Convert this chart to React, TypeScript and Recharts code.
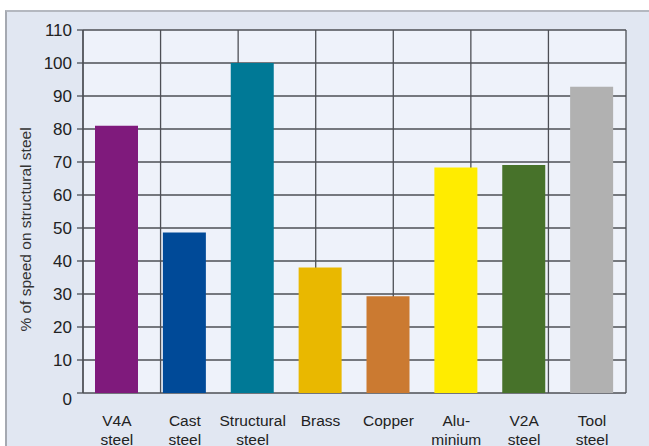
import React from "react";
import { BarChart, Bar, XAxis, YAxis, CartesianGrid, Cell } from "recharts";

const categories = [
  "V4A\nsteel",
  "Cast\nsteel",
  "Structural\nsteel",
  "Brass",
  "Copper",
  "Alu-\nminium",
  "V2A\nsteel",
  "Tool\nsteel",
];
const speedPercent = [81, 48.6, 100, 38, 29.3, 68.3, 69.1, 92.8];
const barColors = [
  "#7f1a7c",
  "#004a98",
  "#007996",
  "#e9b800",
  "#cb7a31",
  "#ffec00",
  "#47722a",
  "#b1b1b1",
];
const yTicks = [0, 10, 20, 30, 40, 50, 60, 70, 80, 90, 100, 110];
const boundaryTicks = [0, 1, 2, 3, 4, 5, 6, 7, 8];
const yLabel = "% of speed on structural steel";

const data = categories.map((c, i) => ({ name: c, value: speedPercent[i] }));

const FONT = "Liberation Sans, Arial, Helvetica, sans-serif";

const CatTick = (props: any) => {
  const { x, y, payload } = props;
  const lines = String(payload.value).split("\n");
  return (
    <text x={x} y={y} textAnchor="middle" fontFamily={FONT} fontSize={15.5} fill="#222">
      {lines.map((l: string, i: number) => (
        <tspan key={i} x={x} dy={i === 0 ? 25 : 19}>
          {l}
        </tspan>
      ))}
    </text>
  );
};

const ValTick = (props: any) => {
  const { x, y, payload } = props;
  const extra = payload.value === 0 ? 6 : 0;
  return (
    <text
      x={x}
      y={y + extra}
      textAnchor="end"
      dominantBaseline="central"
      fontFamily={FONT}
      fontSize={17}
      fill="#222"
    >
      {payload.value}
    </text>
  );
};

const EmptyTick = () => <g />;

const YLabel = (props: any) => {
  const vb = props.viewBox || {};
  const cx = (vb.x || 0) + 25;
  const cy = (vb.y || 0) + (vb.height || 0) / 2 + 18;
  return (
    <text
      x={cx}
      y={cy}
      transform={`rotate(-90, ${cx}, ${cy})`}
      textAnchor="middle"
      dominantBaseline="central"
      fontFamily={FONT}
      fontSize={15.5}
      fill="#333"
    >
      {yLabel}
    </text>
  );
};

export default function App() {
  return (
    <div style={{ position: "absolute", left: 0, top: 0, width: 649, height: 446, background: "#ffffff", overflow: "hidden" }}>
      <div
        style={{
          position: "absolute",
          left: 5,
          top: 10,
          width: 644,
          height: 436,
          background: "#e1e7f2",
          borderLeft: "2px solid #a5a9b1",
          borderTop: "2px solid #b4b8c0",
          boxSizing: "border-box",
        }}
      />
      <div style={{ position: "absolute", left: 0, top: 0 }}>
        <BarChart
          width={649}
          height={446}
          data={data}
          margin={{ top: 30, right: 23, bottom: 0, left: 0 }}
          barSize={43}
        >
          <CartesianGrid
            xAxisId="grid"
            yAxisId="y"
            fill="#eef2fa"
            stroke="#4d4f55"
            strokeWidth={1.3}
          />
          <XAxis
            xAxisId="grid"
            type="number"
            domain={[0, 8]}
            ticks={boundaryTicks}
            height={0}
            axisLine={false}
            tick={EmptyTick}
            tickLine={{ stroke: "#4d4f55", strokeWidth: 1.3 }}
            tickSize={6}
            allowDataOverflow
          />
          <XAxis
            xAxisId="cat"
            dataKey="name"
            height={53}
            axisLine={false}
            tickLine={false}
            tickSize={6}
            tickMargin={2}
            interval={0}
            tick={<CatTick />}
          />
          <YAxis
            yAxisId="y"
            width={83}
            domain={[0, 110]}
            ticks={yTicks}
            interval={0}
            axisLine={{ stroke: "#4d4f55", strokeWidth: 1.3 }}
            tickLine={{ stroke: "#4d4f55", strokeWidth: 1.3 }}
            tickSize={6}
            tickMargin={5}
            tick={<ValTick />}
            label={<YLabel />}
          />
          <Bar dataKey="value" xAxisId="cat" yAxisId="y" isAnimationActive={false}>
            {data.map((d, i) => (
              <Cell key={d.name} fill={barColors[i]} />
            ))}
          </Bar>
        </BarChart>
      </div>
    </div>
  );
}
